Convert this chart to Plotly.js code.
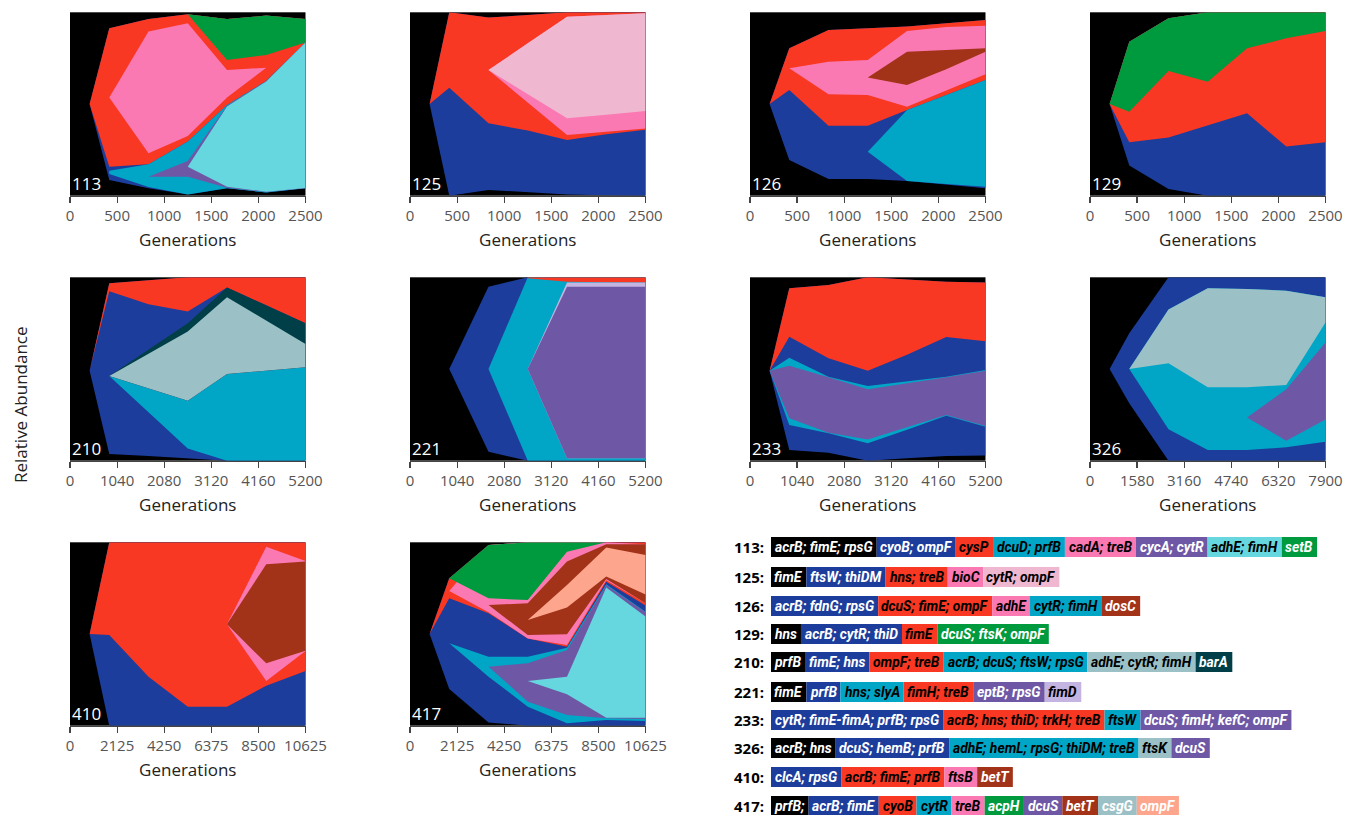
<!DOCTYPE html>
<html><head><meta charset="utf-8">
<script src="https://cdn.plot.ly/plotly-3.0.1.min.js"></script>
<style>html,body{margin:0;padding:0;background:#fff}</style>
</head><body><div id="chart" style="width:1347px;height:815px"></div>
<script>
// ---------- colours ----------
const BLACK='#000000', DBLUE='#1c3d9b', RED='#f83822', CYAN='#01a6c7', PINK='#fb79b3', PURPLE='#6e58a6',
      LCYAN='#67d7df', GREEN='#009a3e', LPINK='#f0b7d1', BROWN='#a23218', GRAYBLUE='#9bc1c6', TEAL='#003f47',
      LAVENDER='#c3b4e2', SALMON='#fea68d';

// ---------- tick values ----------
const ticks2500 = [0, 500, 1000, 1500, 2000, 2500];
const ticks5200 = [0, 1040, 2080, 3120, 4160, 5200];
const ticks7900 = [0, 1580, 3160, 4740, 6320, 7900];
const ticks10625 = [0, 2125, 4250, 6375, 8500, 10625];

// ---------- panel 113 (cumulative band edges, relative abundance) ----------
const gens113 = [208, 417, 833, 1250, 1667, 2083, 2500];
const colors113 = [DBLUE, RED, PINK, GREEN, CYAN, PURPLE, LCYAN];
const lower113 = [
  [0.5, 0.085, 0.040, 0.007, 0.040, 0.018, 0.040],
  [0.5, 0.158, 0.171, 0.295, 0.495, 0.625, 0.836],
  [null, 0.535, 0.231, 0.325, 0.535, 0.698, null],
  [null, null, null, 0.989, 0.740, 0.767, 0.836],
  [null, 0.118, 0.047, 0.007, 0.040, 0.018, 0.040],
  [null, null, 0.104, 0.104, 0.044, 0.020, 0.040],
  [null, null, null, 0.158, 0.049, 0.022, 0.042]];
const upper113 = [
  [0.5, 0.913, 0.964, 0.989, 0.964, 0.982, 0.964],
  [0.5, 0.913, 0.964, 0.989, 0.964, 0.982, 0.964],
  [null, 0.535, 0.895, 0.940, 0.685, 0.698, null],
  [null, null, null, 0.989, 0.964, 0.982, 0.964],
  [null, 0.136, 0.171, 0.295, 0.495, 0.625, 0.836],
  [null, null, 0.104, 0.189, 0.491, 0.625, 0.836],
  [null, null, null, 0.158, 0.487, 0.623, 0.836]];

// ---------- panel 125 ----------
const gens125 = [208, 417, 833, 1250, 1667, 2083, 2500];
const colors125 = [DBLUE, RED, PINK, LPINK];
const lower125 = [
  [0.5, 0.0, 0.031, 0.018, 0.007, 0.003, 0.0],
  [0.5, 0.589, 0.395, 0.355, 0.304, 0.335, 0.360],
  [null, null, 0.685, 0.507, 0.331, 0.349, 0.367],
  [null, null, 0.685, 0.553, 0.422, 0.442, 0.462]];
const upper125 = [
  [0.5, 1.0, 0.971, 0.985, 1.0, 1.0, 1.0],
  [0.5, 1.0, 0.971, 0.985, 1.0, 1.0, 1.0],
  [null, null, 0.685, 0.831, 0.976, 0.985, 0.995],
  [null, null, 0.685, 0.831, 0.976, 0.985, 0.995]];

// ---------- panel 126 ----------
const gens126 = [208, 417, 833, 1250, 1667, 2083, 2500];
const colors126 = [DBLUE, RED, PINK, BROWN, CYAN];
const lower126 = [
  [0.5, 0.195, 0.091, 0.091, 0.080, 0.060, 0.040],
  [0.5, 0.576, 0.382, 0.382, 0.467, 0.550, 0.631],
  [null, 0.695, 0.553, 0.549, 0.485, 0.573, 0.662],
  [null, null, null, 0.645, 0.604, 0.690, 0.785],
  [null, null, null, 0.240, 0.080, 0.064, 0.049]];
const upper126 = [
  [0.5, 0.804, 0.904, 0.913, 0.922, 0.940, 0.958],
  [0.5, 0.804, 0.904, 0.913, 0.922, 0.940, 0.958],
  [null, 0.695, 0.731, 0.740, 0.898, 0.920, 0.927],
  [null, null, null, 0.645, 0.785, 0.795, 0.804],
  [null, null, null, 0.240, 0.467, 0.550, 0.631]];

// ---------- panel 129 ----------
const gens129 = [208, 417, 833, 1250, 1667, 2083, 2500];
const colors129 = [DBLUE, RED, GREEN];
const lower129 = [
  [0.5, 0.164, 0.036, 0.0, 0.0, 0.0, 0.0],
  [0.5, 0.291, 0.318, 0.385, 0.449, 0.268, 0.291],
  [0.5, 0.458, 0.680, 0.622, 0.804, 0.858, 0.898]];
const upper129 = [
  [0.5, 0.840, 0.967, 1.0, 1.0, 1.0, 1.0],
  [0.5, 0.840, 0.967, 1.0, 1.0, 1.0, 1.0],
  [0.5, 0.840, 0.967, 1.0, 1.0, 1.0, 1.0]];

// ---------- panel 210 ----------
const gens210 = [433, 867, 1733, 2600, 3467, 4333, 5200];
const colors210 = [DBLUE, RED, CYAN, TEAL, GRAYBLUE];
const lower210 = [
  [0.49, 0.036, 0.025, 0.013, 0.0, 0.0, 0.0],
  [0.49, 0.924, 0.853, 0.813, 0.945, 0.845, 0.749],
  [null, 0.462, 0.264, 0.067, 0.0, 0.0, 0.0],
  [null, 0.462, 0.395, 0.327, 0.473, 0.491, 0.509],
  [null, 0.462, 0.395, 0.327, 0.473, 0.491, 0.509]];
const upper210 = [
  [0.49, 0.967, 0.984, 1.0, 1.0, 1.0, 1.0],
  [0.49, 0.967, 0.984, 1.0, 1.0, 1.0, 1.0],
  [null, 0.462, 0.395, 0.327, 0.473, 0.491, 0.509],
  [null, 0.462, 0.605, 0.749, 0.945, 0.847, 0.749],
  [null, 0.462, 0.584, 0.704, 0.891, 0.765, 0.636]];

// ---------- panel 221 ----------
const gens221 = [433, 867, 1733, 2600, 3467, 4333, 5200];
const colors221 = [DBLUE, CYAN, RED, LAVENDER, PURPLE];
const lower221 = [
  [null, 0.5, 0.049, 0.0, 0.0, 0.0, 0.0],
  [null, null, 0.5, 0.0, 0.0, 0.0, 0.0],
  [null, null, null, 0.995, 0.976, 0.973, 0.971],
  [null, null, null, 0.5, 0.013, 0.013, 0.013],
  [null, null, null, 0.5, 0.013, 0.013, 0.013]];
const upper221 = [
  [null, 0.5, 0.949, 1.0, 1.0, 1.0, 1.0],
  [null, null, 0.5, 1.0, 1.0, 1.0, 1.0],
  [null, null, null, 1.0, 1.0, 1.0, 1.0],
  [null, null, null, 0.5, 0.971, 0.971, 0.971],
  [null, null, null, 0.5, 0.949, 0.949, 0.949]];

// ---------- panel 233 ----------
const gens233 = [433, 867, 1733, 2600, 3467, 4333, 5200];
const colors233 = [DBLUE, RED, CYAN, PURPLE];
const lower233 = [
  [0.49, 0.058, 0.044, 0.0, 0.013, 0.025, 0.029],
  [0.49, 0.676, 0.558, 0.491, 0.578, 0.675, 0.651],
  [0.49, 0.195, 0.149, 0.095, 0.169, 0.245, 0.185],
  [0.49, 0.231, 0.153, 0.116, 0.182, 0.249, 0.189]];
const upper233 = [
  [0.49, 0.940, 0.958, 1.0, 0.989, 0.976, 0.971],
  [0.49, 0.940, 0.958, 1.0, 0.989, 0.976, 0.971],
  [0.49, 0.562, 0.458, 0.407, 0.433, 0.458, 0.495],
  [0.49, 0.518, 0.455, 0.389, 0.424, 0.455, 0.491]];

// ---------- panel 326 ----------
const gens326 = [658, 1317, 2633, 3950, 5267, 6583, 7900];
const colors326 = [DBLUE, CYAN, GRAYBLUE, PURPLE];
const lower326 = [
  [0.5, 0.313, 0.0, 0.0, 0.0, 0.0, 0.0],
  [null, 0.5, 0.171, 0.058, 0.058, 0.073, 0.104],
  [null, 0.5, 0.531, 0.400, 0.400, 0.413, 0.753],
  [null, null, null, null, 0.235, 0.109, 0.225]];
const upper326 = [
  [0.5, 0.695, 1.0, 1.0, 1.0, 1.0, 1.0],
  [null, 0.5, 0.825, 0.940, 0.936, 0.927, 0.891],
  [null, 0.5, 0.825, 0.940, 0.936, 0.927, 0.891],
  [null, null, null, null, 0.235, 0.389, 0.644]];

// ---------- panel 410 ----------
const gens410 = [885, 1771, 3542, 5313, 7083, 8854, 10625];
const colors410 = [DBLUE, RED, PINK, BROWN];
const lower410 = [
  [0.5, 0.0, 0.0, 0.0, 0.0, 0.0, 0.0],
  [0.5, 0.495, 0.267, 0.104, 0.104, 0.218, 0.298],
  [null, null, null, null, 0.553, 0.244, 0.407],
  [null, null, null, null, 0.553, 0.340, 0.409]];
const upper410 = [
  [0.5, 1.0, 1.0, 1.0, 1.0, 1.0, 1.0],
  [0.5, 1.0, 1.0, 1.0, 1.0, 1.0, 1.0],
  [null, null, null, null, 0.553, 0.976, 0.898],
  [null, null, null, null, 0.553, 0.880, 0.895]];

// ---------- panel 417 ----------
const gens417 = [885, 1771, 3542, 5313, 7083, 8854, 10625];
const colors417 = [DBLUE, RED, PINK, GREEN, BROWN, SALMON, CYAN, PURPLE, LCYAN];
const lower417 = [
  [0.5, 0.200, 0.018, 0.0, 0.0, 0.0, 0.0],
  [0.5, 0.695, 0.613, 0.476, 0.431, 0.785, 0.655],
  [null, 0.735, 0.618, 0.476, 0.440, 0.793, 0.667],
  [null, 0.804, 0.695, 0.685, 0.949, 1.0, null],
  [null, null, 0.658, 0.495, 0.498, 0.800, 0.667],
  [null, null, null, 0.576, 0.644, 0.813, 0.716],
  [null, 0.449, 0.267, 0.104, 0.013, 0.031, 0.025],
  [null, null, 0.322, 0.131, 0.058, 0.040, 0.036],
  [null, null, null, 0.244, 0.171, 0.044, 0.044]];
const upper417 = [
  [0.5, 0.804, 0.985, 1.0, 1.0, 1.0, 1.0],
  [0.5, 0.804, 0.985, 1.0, 1.0, 1.0, 1.0],
  [null, 0.735, 0.985, 1.0, 1.0, 1.0, 0.989],
  [null, 0.804, 0.985, 1.0, 1.0, 1.0, null],
  [null, null, 0.658, 0.667, 0.895, 0.989, 0.989],
  [null, null, null, 0.576, 0.767, 0.971, 0.931],
  [null, 0.449, 0.376, 0.376, 0.425, 0.771, 0.622],
  [null, null, 0.322, 0.340, 0.413, 0.767, 0.618],
  [null, null, null, 0.244, 0.267, 0.753, 0.595]];

// ---------- legend (mutations per population) ----------
const legendIds = ['113', '125', '126', '129', '210', '221', '233', '326', '410', '417'];
const legLabels113 = ['acrB; fimE; rpsG', 'cyoB; ompF', 'cysP', 'dcuD; prfB', 'cadA; treB', 'cycA; cytR', 'adhE; fimH', 'setB'];
const legColors113 = [BLACK, DBLUE, RED, CYAN, PINK, PURPLE, LCYAN, GREEN];
const legText113 = ['#fff', '#fff', '#000', '#000', '#000', '#fff', '#000', '#fff'];
const legLabels125 = ['fimE', 'ftsW; thiDM', 'hns; treB', 'bioC', 'cytR; ompF'];
const legColors125 = [BLACK, DBLUE, RED, PINK, LPINK];
const legText125 = ['#fff', '#fff', '#000', '#000', '#000'];
const legLabels126 = ['acrB; fdnG; rpsG', 'dcuS; fimE; ompF', 'adhE', 'cytR; fimH', 'dosC'];
const legColors126 = [DBLUE, RED, PINK, CYAN, BROWN];
const legText126 = ['#fff', '#000', '#000', '#000', '#fff'];
const legLabels129 = ['hns', 'acrB; cytR; thiD', 'fimE', 'dcuS; ftsK; ompF'];
const legColors129 = [BLACK, DBLUE, RED, GREEN];
const legText129 = ['#fff', '#fff', '#000', '#fff'];
const legLabels210 = ['prfB', 'fimE; hns', 'ompF; treB', 'acrB; dcuS; ftsW; rpsG', 'adhE; cytR; fimH', 'barA'];
const legColors210 = [BLACK, DBLUE, RED, CYAN, GRAYBLUE, TEAL];
const legText210 = ['#fff', '#fff', '#000', '#000', '#000', '#fff'];
const legLabels221 = ['fimE', 'prfB', 'hns; slyA', 'fimH; treB', 'eptB; rpsG', 'fimD'];
const legColors221 = [BLACK, DBLUE, CYAN, RED, PURPLE, LAVENDER];
const legText221 = ['#fff', '#fff', '#000', '#000', '#fff', '#000'];
const legLabels233 = ['cytR; fimE-fimA; prfB; rpsG', 'acrB; hns; thiD; trkH; treB', 'ftsW', 'dcuS; fimH; kefC; ompF'];
const legColors233 = [DBLUE, RED, CYAN, PURPLE];
const legText233 = ['#fff', '#000', '#000', '#fff'];
const legLabels326 = ['acrB; hns', 'dcuS; hemB; prfB', 'adhE; hemL; rpsG; thiDM; treB', 'ftsK', 'dcuS'];
const legColors326 = [BLACK, DBLUE, CYAN, GRAYBLUE, PURPLE];
const legText326 = ['#fff', '#fff', '#000', '#000', '#fff'];
const legLabels410 = ['clcA; rpsG', 'acrB; fimE; prfB', 'ftsB', 'betT'];
const legColors410 = [DBLUE, RED, PINK, BROWN];
const legText410 = ['#fff', '#000', '#000', '#fff'];
const legLabels417 = ['prfB;', 'acrB; fimE', 'cyoB', 'cytR', 'treB', 'acpH', 'dcuS', 'betT', 'csgG', 'ompF'];
const legColors417 = [BLACK, DBLUE, RED, CYAN, PINK, GREEN, PURPLE, BROWN, GRAYBLUE, SALMON];
const legText417 = ['#fff', '#fff', '#000', '#000', '#000', '#fff', '#fff', '#fff', '#fff', '#fff'];

// ---------- assemble ----------
const W = 1347, H = 815;
const panels = [
  {id:'113', gens:gens113, colors:colors113, lower:lower113, upper:upper113, ticks:ticks2500, col:0, row:0},
  {id:'125', gens:gens125, colors:colors125, lower:lower125, upper:upper125, ticks:ticks2500, col:1, row:0},
  {id:'126', gens:gens126, colors:colors126, lower:lower126, upper:upper126, ticks:ticks2500, col:2, row:0},
  {id:'129', gens:gens129, colors:colors129, lower:lower129, upper:upper129, ticks:ticks2500, col:3, row:0},
  {id:'210', gens:gens210, colors:colors210, lower:lower210, upper:upper210, ticks:ticks5200, col:0, row:1},
  {id:'221', gens:gens221, colors:colors221, lower:lower221, upper:upper221, ticks:ticks5200, col:1, row:1},
  {id:'233', gens:gens233, colors:colors233, lower:lower233, upper:upper233, ticks:ticks5200, col:2, row:1},
  {id:'326', gens:gens326, colors:colors326, lower:lower326, upper:upper326, ticks:ticks7900, col:3, row:1},
  {id:'410', gens:gens410, colors:colors410, lower:lower410, upper:upper410, ticks:ticks10625, col:0, row:2},
  {id:'417', gens:gens417, colors:colors417, lower:lower417, upper:upper417, ticks:ticks10625, col:1, row:2}
];
const legend = {
  '113':[legLabels113, legColors113, legText113], '125':[legLabels125, legColors125, legText125],
  '126':[legLabels126, legColors126, legText126], '129':[legLabels129, legColors129, legText129],
  '210':[legLabels210, legColors210, legText210], '221':[legLabels221, legColors221, legText221],
  '233':[legLabels233, legColors233, legText233], '326':[legLabels326, legColors326, legText326],
  '410':[legLabels410, legColors410, legText410], '417':[legLabels417, legColors417, legText417]
};

const colLeft = [70, 410, 750, 1090], plotW = 235.5;
const rowTop = [12.3, 277.3, 542.3], plotH = 183.4;
const FONT = "'Open Sans', sans-serif";

const data = [];
const layout = {
  width: W, height: H, margin: {l:0, r:0, t:0, b:0},
  paper_bgcolor: '#ffffff', plot_bgcolor: '#000000', showlegend: false,
  font: {family: FONT}, shapes: [], annotations: []
};

panels.forEach((p, k) => {
  const n = k + 1, xs = n === 1 ? '' : String(n);
  const xa = 'x' + xs, ya = 'y' + xs;
  p.colors.forEach((c, g) => {
    const lo = p.lower[g], up = p.upper[g], X = [], Y = [];
    for (let i = 0; i < p.gens.length; i++) if (lo[i] !== null) { X.push(p.gens[i]); Y.push(lo[i]); }
    for (let i = p.gens.length - 1; i >= 0; i--) if (up[i] !== null) { X.push(p.gens[i]); Y.push(up[i]); }
    data.push({type:'scatter', mode:'lines', x:X, y:Y, fill:'toself', fillcolor:c,
      line:{width:0, color:c}, hoverinfo:'skip', showlegend:false, xaxis:xa, yaxis:ya});
  });
  const x0 = colLeft[p.col] / W, x1 = (colLeft[p.col] + plotW) / W;
  const y1 = 1 - rowTop[p.row] / H, y0 = 1 - (rowTop[p.row] + plotH) / H;
  layout['xaxis' + xs] = {
    domain:[x0, x1], anchor: ya, range:[0, p.ticks[p.ticks.length - 1]],
    tickmode:'array', tickvals:p.ticks, ticktext:p.ticks.map(String),
    showgrid:false, zeroline:false, showline:true, linecolor:'#444', linewidth:1.2,
    ticks:'outside', ticklen:6, tickwidth:1.2, tickcolor:'#444',
    tickfont:{family:FONT, size:15, color:'#555'}, fixedrange:true, automargin:false,
    title:{text:'Generations', font:{family:FONT, size:17, color:'#222'}, standoff:10}
  };
  layout['yaxis' + xs] = {
    domain:[y0, y1], anchor: xa, range:[0, 1], visible:false, fixedrange:true
  };
  layout.annotations.push({
    xref: xa + ' domain', yref: ya + ' domain', x: 0, y: 0, xanchor:'left', yanchor:'bottom',
    text: p.id, showarrow:false, font:{family:FONT, size:17, color:'#ffffff'}, xshift:0, yshift:-1
  });
});

layout.annotations.push({
  xref:'paper', yref:'paper', x:20 / W, y:1 - 405 / H, text:'Relative Abundance', textangle:-90,
  showarrow:false, xanchor:'center', yanchor:'middle', font:{family:FONT, size:17, color:'#222'}
});

// ---------- legend layout ----------
const cv = document.createElement('canvas').getContext('2d');
function hasFont(f) {
  const s = 'mmmmmmmmmmlli;fimE WwQq';
  cv.font = '72px monospace'; const a = cv.measureText(s).width;
  cv.font = "72px '" + f + "', monospace"; const b = cv.measureText(s).width;
  return Math.abs(a - b) > 0.5;
}
const LEGFAM = hasFont('Liberation Sans Narrow') ? "'Liberation Sans Narrow'" : 'Roboto';
function tw(t, size) { cv.font = 'italic bold ' + size + 'px ' + LEGFAM; return cv.measureText(t).width; }
const PAD = 8;
const ref = legLabels233.reduce((s, t) => s + tw(t, 14), 0);
let FS = 14 * (521 - PAD * legLabels233.length) / ref;
FS = Math.max(11, Math.min(16, FS));

const rowY = [547, 577, 606, 634, 662, 692, 720, 748, 777, 806];
const boxH = 20, startX = 771;
legendIds.forEach((id, r) => {
  const [labs, cols, tcols] = legend[id];
  const yc = rowY[r];
  layout.annotations.push({xref:'paper', yref:'paper', x:766 / W, y:1 - yc / H, xanchor:'right', yanchor:'middle',
    text:'<b>' + id + ':</b>', showarrow:false, font:{family:FONT, size:15, color:'#000'}});
  let x = startX;
  labs.forEach((t, i) => {
    const w = tw(t, FS) + PAD;
    layout.shapes.push({type:'rect', xref:'paper', yref:'paper', x0:x / W, x1:(x + w) / W,
      y0:1 - (yc + boxH / 2) / H, y1:1 - (yc - boxH / 2) / H, fillcolor:cols[i], line:{width:0}, layer:'above'});
    layout.annotations.push({xref:'paper', yref:'paper', x:(x + w / 2) / W, y:1 - yc / H, xanchor:'center', yanchor:'middle',
      text:t, showarrow:false, font:{family:LEGFAM, size:FS, color:tcols[i], weight:'bold', style:'italic'}});
    x += w;
  });
});

Plotly.newPlot('chart', data, layout, {displayModeBar:false, staticPlot:true});
</script></body></html>
